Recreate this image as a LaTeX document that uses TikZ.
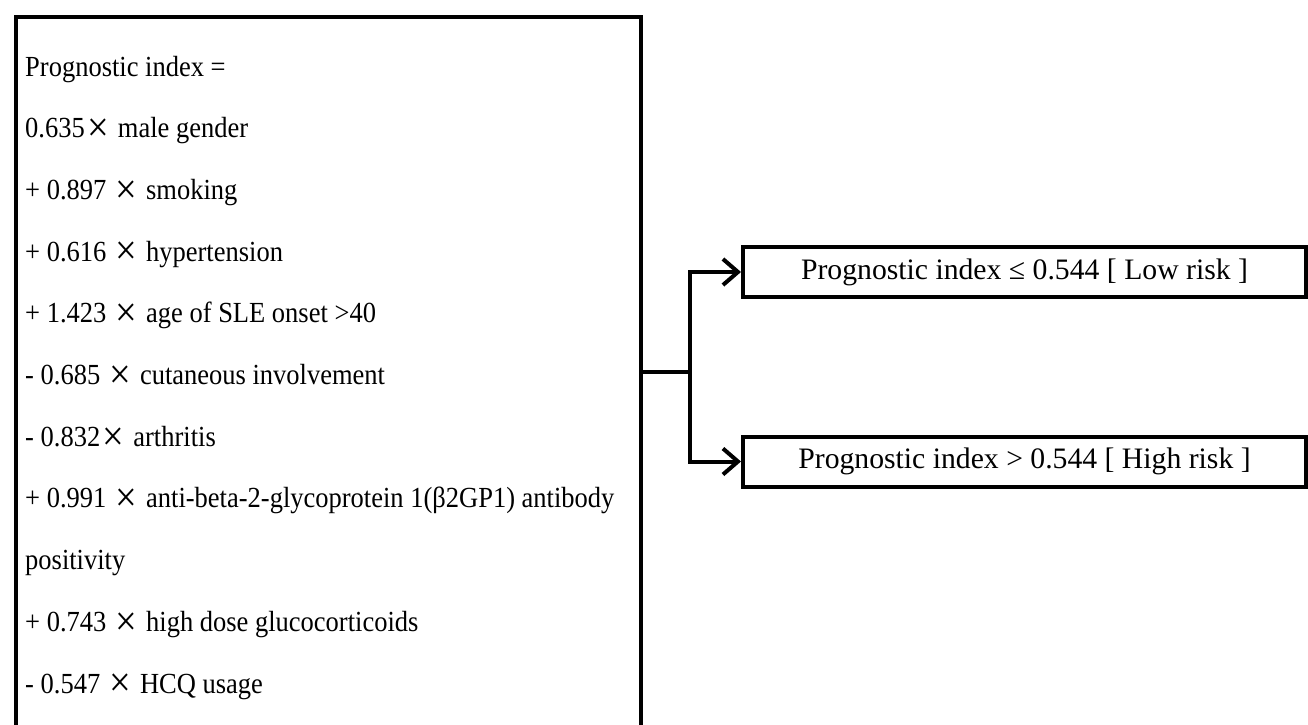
\documentclass[tikz,border=0pt]{standalone}
\usepackage{fontspec}
\setmainfont{Liberation Serif}
\usetikzlibrary{arrows.meta}
\newcommand{\Xm}{\makebox[1em]{\raisebox{-0.13em}{\scalebox{1.45}{×}}}}
\newcommand{\tallt}[1]{\scalebox{1}[1.1]{#1}}
\begin{document}
\begin{tikzpicture}[x=1pt,y=-1pt,
  box/.style={draw, line width=4pt, inner sep=0pt},
  conn/.style={line width=4pt, -{Straight Barb[length=15pt,width=26pt]}},
  line/.style={line width=4pt},
  ftext/.style={anchor=base west, inner sep=0pt, font=\fontsize{26.5}{30}\selectfont},
  result/.style={box, minimum width=563pt, minimum height=50pt, font=\fontsize{29.7}{34}\selectfont}]
\useasboundingbox (0,0) rectangle (1308,724);
\fill[white] (0,0) rectangle (1308,724);
\clip (0,0) rectangle (1308,724);
\node[box, minimum width=625pt, minimum height=800pt, anchor=north west] (index) at (14,15) {};
\node[ftext] (t1) at (25,76) {\tallt{Prognostic index =}};
\node[ftext] (t2) at (25,137.7) {\tallt{0.635\Xm{} male gender}};
\node[ftext] (t3) at (25,199.4) {\tallt{+ 0.897 \Xm{} smoking}};
\node[ftext] (t4) at (25,261.1) {\tallt{+ 0.616 \Xm{} hypertension}};
\node[ftext] (t5) at (25,322.8) {\tallt{+ 1.423 \Xm{} age of SLE onset >40}};
\node[ftext] (t6) at (25,384.5) {\tallt{- 0.685 \Xm{} cutaneous involvement}};
\node[ftext] (t7) at (25,446.2) {\tallt{- 0.832\Xm{} arthritis}};
\node[ftext] (t8) at (25,507.9) {\tallt{+ 0.991 \Xm{} anti-beta-2-glycoprotein 1(β2GP1) antibody}};
\node[ftext] (t9) at (25,569.6) {\tallt{positivity}};
\node[ftext] (t10) at (25,631.3) {\tallt{+ 0.743 \Xm{} high dose glucocorticoids}};
\node[ftext] (t11) at (25,693) {\tallt{- 0.547 \Xm{} HCQ usage}};
\node[result] (low) at (1024.5,272) {Prognostic index ≤ 0.544 [ Low risk ]};
\node[result] (high) at (1024.5,461.5) {Prognostic index > 0.544 [ High risk ]};
\coordinate (split) at (690,372);
\draw[line] (index.east |- split) -- (split);
\draw[conn] (split) |- (low.west);
\draw[conn] (split) |- (high.west);
\end{tikzpicture}
\end{document}
